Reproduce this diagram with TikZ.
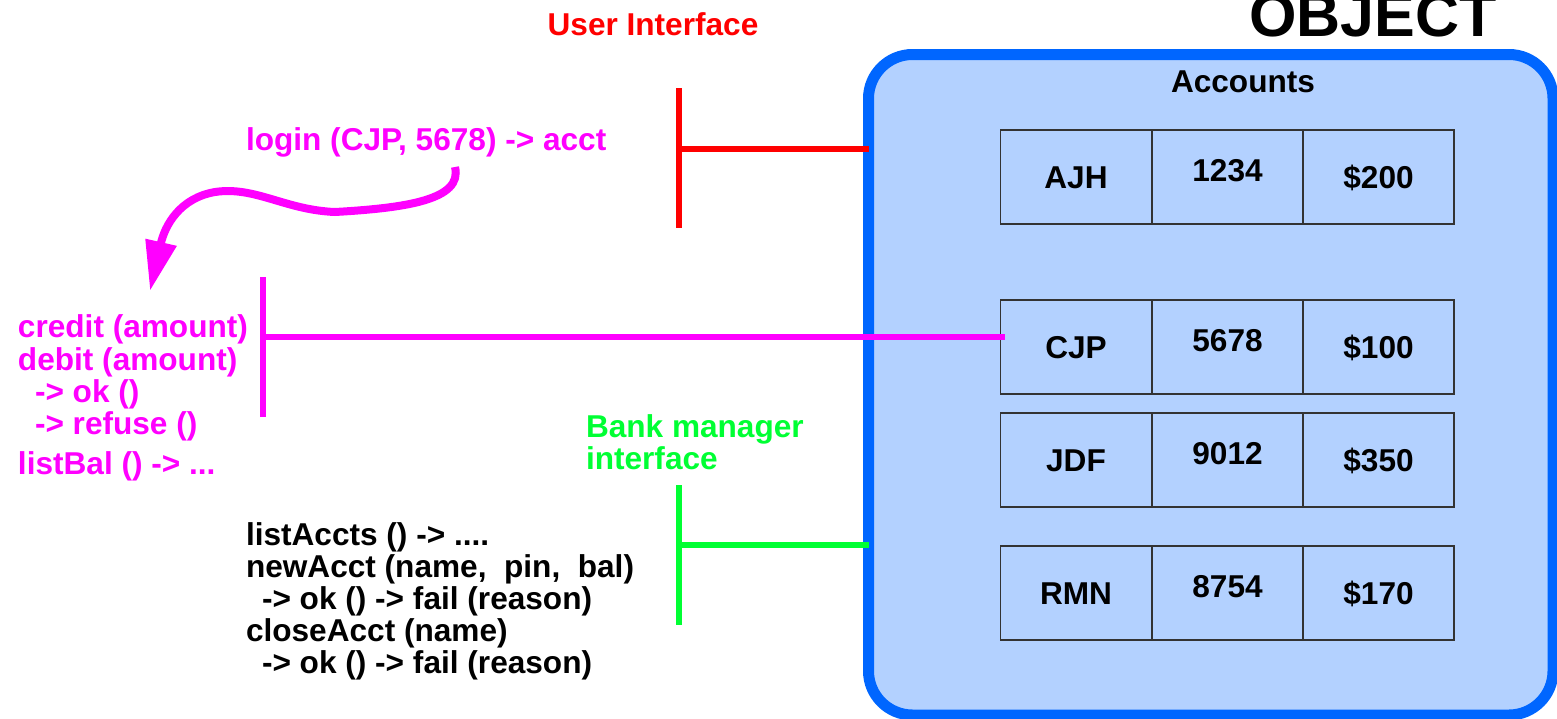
\documentclass[tikz,border=0pt]{standalone}
\usepackage{fontspec}
\setmainfont{Liberation Sans}
\usetikzlibrary{arrows.meta}
\definecolor{boxfill}{HTML}{B3D1FF}
\definecolor{boxline}{HTML}{0066FF}
\definecolor{mag}{HTML}{FF00FF}
\definecolor{grn}{HTML}{00FF33}
\definecolor{cellline}{HTML}{333333}
\begin{document}
\begin{tikzpicture}[x=0.5pt,y=-0.5pt,
  every node/.style={font=\fontsize{15.8}{16}\selectfont\bfseries, inner sep=0pt, outer sep=0pt},
  txt/.style={anchor=base west},
  objbox/.style={draw=boxline, fill=boxfill, line width=5.5pt, rounded corners=22pt},
  cellbox/.style={draw=cellline, line width=0.75pt, minimum width=75.5pt, minimum height=47pt},
  cellname/.style={anchor=base},
  bar/.style={line width=3pt},
]
\useasboundingbox (0,0) rectangle (1557,718);

% object box
\node[objbox, minimum width=342.25pt, minimum height=330.25pt] (obj) at (1210.75,384.75) {};
\node[font=\fontsize{30.5}{32}\selectfont\bfseries, anchor=base] (objtitle) at (1373,36) {OBJECT};
\node[anchor=base] (accounts) at (1243,92) {Accounts};

% table rows
\foreach \r/\yc/\na/\nb/\nc in {a/177/AJH/1234/\$200, b/347/CJP/5678/\$100, c/460/JDF/9012/\$350, d/593/RMN/8754/\$170}{
  \node[cellbox] (\r1) at (1076,\yc) {};
  \node[cellbox] (\r2) at (1227.5,\yc) {};
  \node[cellbox] (\r3) at (1378.5,\yc) {};
  \node[cellname] (\r1t) at ([yshift=-5.5pt]\r1.center) {\na};
  \node[cellname] (\r2t) at ([yshift=-2pt]\r2.center) {\nb};
  \node[cellname] (\r3t) at ([yshift=-5.5pt]\r3.center) {\nc};
}

% user interface (red)
\node[anchor=base, text=red] (uilabel) at (653,35) {User Interface};
\coordinate (uitop) at (679,88);
\coordinate (uibot) at (679,228);
\coordinate (uimid) at (679,149);
\draw[bar, red] (uitop) -- (uibot);
\draw[bar, red] (uimid) -- (uimid -| obj.west);

% customer interface (magenta)
\coordinate (ctop) at (263,277);
\coordinate (cbot) at (263,417);
\coordinate (cmid) at (263,337);
\draw[bar, mag] (ctop) -- (cbot);
\draw[bar, mag] (cmid) -- ([xshift=2pt]cmid -| b1.west);

\node[txt, text=mag] (login) at (246,150) {login (CJP, 5678) -> acct};
\node[txt, text=mag] (c1) at (18,337) {credit (amount)};
\node[txt, text=mag] (c2) at (18,370) {debit (amount)};
\node[txt, text=mag] (c3) at (35,402) {-> ok ()};
\node[txt, text=mag] (c4) at (35,434) {-> refuse ()};
\node[txt, text=mag] (c5) at (18,474) {listBal () -> ...};

% curved arrow
\coordinate (arrstart) at (455,167);
\coordinate (arrend) at (150,291);
\draw[mag, line width=4pt, -{Triangle[length=25pt,width=15pt]}]
  (arrstart) .. controls (463,200) and (405,208) .. (335,212)
  .. controls (285,210) and (255,186) .. (215,192)
  .. controls (180,198) and (165,225) .. (arrend);

% bank manager interface (green)
\node[txt, text=grn] (bm1) at (586,437) {Bank manager};
\node[txt, text=grn] (bm2) at (586,469) {interface};
\coordinate (gtop) at (679,485);
\coordinate (gbot) at (679,625);
\coordinate (gmid) at (679,545);
\draw[bar, grn] (gtop) -- (gbot);
\draw[bar, grn] (gmid) -- (gmid -| obj.west);

\node[txt] (m1) at (246,545) {listAccts () -> ....};
\node[txt] (m2) at (246,577) {newAcct (name,~ pin,~ bal)};
\node[txt] (m3) at (262,609) {-> ok () -> fail (reason)};
\node[txt] (m4) at (246,641) {closeAcct (name)};
\node[txt] (m5) at (262,673) {-> ok () -> fail (reason)};
\end{tikzpicture}
\end{document}
